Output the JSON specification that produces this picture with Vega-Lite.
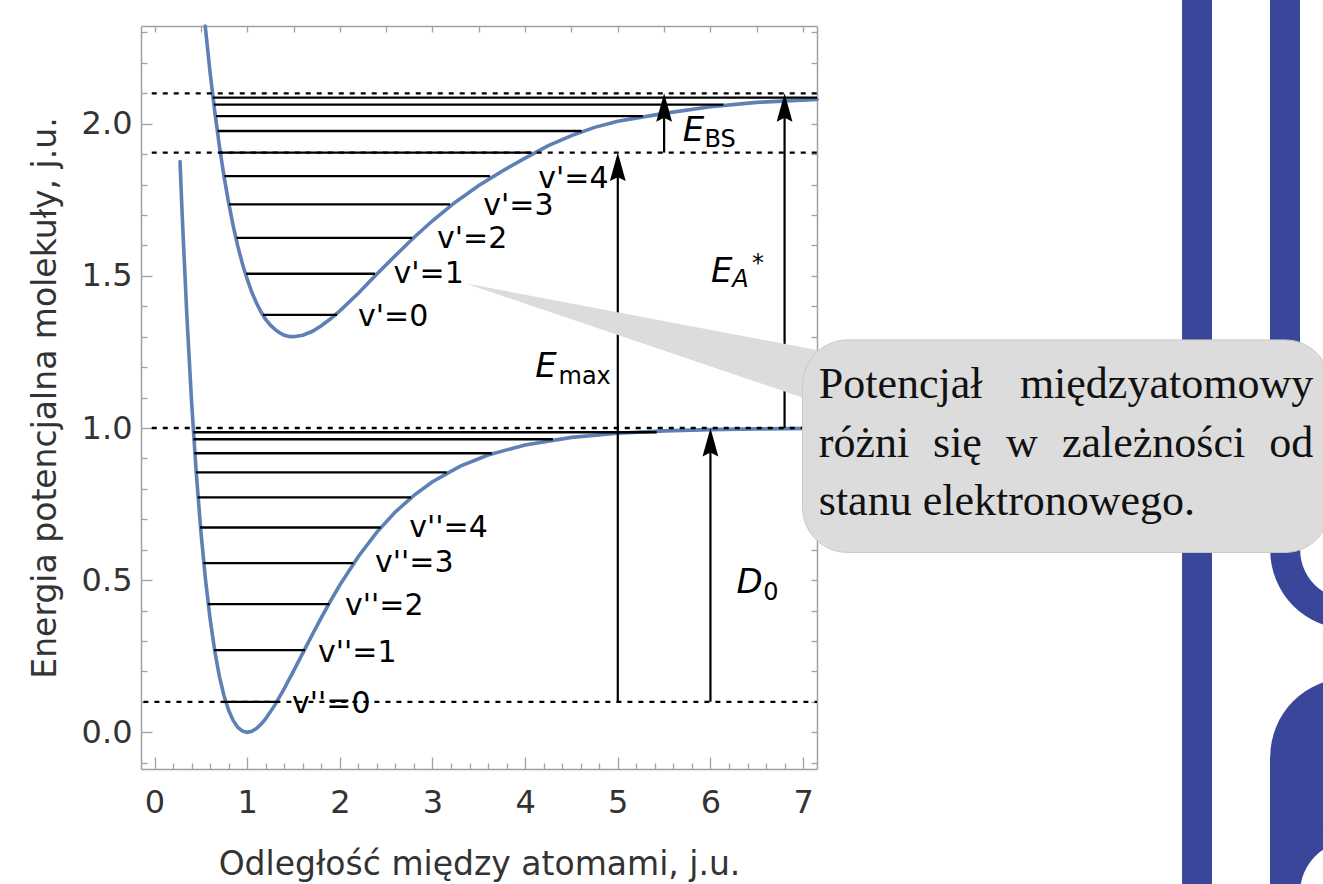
{
  "$schema": "https://vega.github.io/schema/vega-lite/v6.json",
  "width": 676,
  "height": 743,
  "autosize": {"type": "none"},
  "padding": {"left": 141, "top": 26, "right": 506, "bottom": 115},
  "background": "white",
  "config": {
    "view": {"stroke": null},
    "axis": {
      "grid": false,
      "domainColor": "#a0a0a0",
      "tickColor": "#a0a0a0",
      "domainWidth": 1.5,
      "tickWidth": 1.3,
      "labelFont": "DejaVu Sans",
      "labelFontSize": 32,
      "labelColor": "#333333",
      "labelFlush": false,
      "labelOverlap": false,
      "titleFont": "DejaVu Sans",
      "titleFontSize": 33,
      "titleFontWeight": "normal",
      "titleColor": "#333333"
    }
  },
  "resolve": {"axis": {"x": "independent", "y": "independent"}},
  "datasets": {
    "curves": [
      {"c": "L", "x": 0.275, "y": 1.876}, {"c": "L", "x": 0.3, "y": 1.69}, {"c": "L", "x": 0.35, "y": 1.363},
      {"c": "L", "x": 0.4, "y": 1.086}, {"c": "L", "x": 0.45, "y": 0.854}, {"c": "L", "x": 0.5, "y": 0.661},
      {"c": "L", "x": 0.55, "y": 0.502}, {"c": "L", "x": 0.6, "y": 0.372}, {"c": "L", "x": 0.65, "y": 0.267},
      {"c": "L", "x": 0.7, "y": 0.184}, {"c": "L", "x": 0.75, "y": 0.12}, {"c": "L", "x": 0.8, "y": 0.0722},
      {"c": "L", "x": 0.85, "y": 0.0382}, {"c": "L", "x": 0.9, "y": 0.016}, {"c": "L", "x": 0.95, "y": 0.0038},
      {"c": "L", "x": 1.0, "y": 0.0}, {"c": "L", "x": 1.05, "y": 0.0033}, {"c": "L", "x": 1.1, "y": 0.0126},
      {"c": "L", "x": 1.15, "y": 0.0267}, {"c": "L", "x": 1.2, "y": 0.0449}, {"c": "L", "x": 1.3, "y": 0.0901},
      {"c": "L", "x": 1.4, "y": 0.1434}, {"c": "L", "x": 1.5, "y": 0.2011}, {"c": "L", "x": 1.6, "y": 0.2604},
      {"c": "L", "x": 1.7, "y": 0.3195}, {"c": "L", "x": 1.8, "y": 0.377}, {"c": "L", "x": 1.9, "y": 0.4321},
      {"c": "L", "x": 2.0, "y": 0.4841}, {"c": "L", "x": 2.2, "y": 0.5779}, {"c": "L", "x": 2.4, "y": 0.6578},
      {"c": "L", "x": 2.6, "y": 0.7243}, {"c": "L", "x": 2.8, "y": 0.7789}, {"c": "L", "x": 3.0, "y": 0.8235},
      {"c": "L", "x": 3.3, "y": 0.8747}, {"c": "L", "x": 3.6, "y": 0.9114}, {"c": "L", "x": 4.0, "y": 0.9445},
      {"c": "L", "x": 4.5, "y": 0.9692}, {"c": "L", "x": 5.0, "y": 0.9829}, {"c": "L", "x": 5.5, "y": 0.9906},
      {"c": "L", "x": 6.0, "y": 0.9948}, {"c": "L", "x": 6.5, "y": 0.9971}, {"c": "L", "x": 7.15, "y": 0.9987},
      {"c": "U", "x": 0.547, "y": 2.321}, {"c": "U", "x": 0.6, "y": 2.167}, {"c": "U", "x": 0.65, "y": 2.04},
      {"c": "U", "x": 0.7, "y": 1.927}, {"c": "U", "x": 0.75, "y": 1.827}, {"c": "U", "x": 0.8, "y": 1.74},
      {"c": "U", "x": 0.85, "y": 1.663}, {"c": "U", "x": 0.9, "y": 1.596}, {"c": "U", "x": 0.95, "y": 1.538},
      {"c": "U", "x": 1.0, "y": 1.489}, {"c": "U", "x": 1.05, "y": 1.446}, {"c": "U", "x": 1.1, "y": 1.411},
      {"c": "U", "x": 1.15, "y": 1.381}, {"c": "U", "x": 1.2, "y": 1.357}, {"c": "U", "x": 1.25, "y": 1.338},
      {"c": "U", "x": 1.3, "y": 1.324}, {"c": "U", "x": 1.35, "y": 1.313}, {"c": "U", "x": 1.4, "y": 1.305},
      {"c": "U", "x": 1.45, "y": 1.301}, {"c": "U", "x": 1.5, "y": 1.3}, {"c": "U", "x": 1.6, "y": 1.305},
      {"c": "U", "x": 1.7, "y": 1.317}, {"c": "U", "x": 1.8, "y": 1.336}, {"c": "U", "x": 1.9, "y": 1.359},
      {"c": "U", "x": 2.0, "y": 1.385}, {"c": "U", "x": 2.2, "y": 1.443}, {"c": "U", "x": 2.4, "y": 1.506},
      {"c": "U", "x": 2.6, "y": 1.567}, {"c": "U", "x": 2.8, "y": 1.626}, {"c": "U", "x": 3.0, "y": 1.681},
      {"c": "U", "x": 3.25, "y": 1.743}, {"c": "U", "x": 3.5, "y": 1.797}, {"c": "U", "x": 3.75, "y": 1.844},
      {"c": "U", "x": 4.0, "y": 1.887}, {"c": "U", "x": 4.25, "y": 1.928}, {"c": "U", "x": 4.5, "y": 1.961},
      {"c": "U", "x": 4.75, "y": 1.988}, {"c": "U", "x": 5.0, "y": 2.008}, {"c": "U", "x": 5.5, "y": 2.034},
      {"c": "U", "x": 6.0, "y": 2.056}, {"c": "U", "x": 6.5, "y": 2.07}, {"c": "U", "x": 7.15, "y": 2.08}
    ],
    "levels": [
      {"x": 0.736, "x2": 1.344, "y": 0.1}, {"x": 0.642, "x2": 1.624, "y": 0.27}, {"x": 0.574, "x2": 1.887, "y": 0.421},
      {"x": 0.527, "x2": 2.146, "y": 0.556}, {"x": 0.491, "x2": 2.441, "y": 0.673}, {"x": 0.466, "x2": 2.768, "y": 0.772},
      {"x": 0.448, "x2": 3.154, "y": 0.854}, {"x": 0.43, "x2": 3.64, "y": 0.917}, {"x": 0.419, "x2": 4.3, "y": 0.963},
      {"x": 0.419, "x2": 5.42, "y": 0.986},
      {"x": 1.17, "x2": 1.97, "y": 1.372}, {"x": 0.99, "x2": 2.38, "y": 1.507}, {"x": 0.885, "x2": 2.78, "y": 1.625},
      {"x": 0.804, "x2": 3.19, "y": 1.735}, {"x": 0.754, "x2": 3.62, "y": 1.828}, {"x": 0.707, "x2": 4.07, "y": 1.905},
      {"x": 0.682, "x2": 4.61, "y": 1.976}, {"x": 0.664, "x2": 5.27, "y": 2.025}, {"x": 0.642, "x2": 6.14, "y": 2.063},
      {"x": 0.628, "x2": 7.15, "y": 2.086}
    ],
    "dotted": [
      {"x": -0.12, "x2": 7.15, "y": 0.1}, {"x": -0.03, "x2": 7.15, "y": 1.0},
      {"x": -0.03, "x2": 7.15, "y": 1.905}, {"x": -0.03, "x2": 7.15, "y": 2.1}
    ],
    "arrows": [
      {"x": 5.0, "y": 0.1, "y2": 1.875, "top": 1.905}, {"x": 6.0, "y": 0.1, "y2": 0.97, "top": 1.0},
      {"x": 6.8, "y": 1.0, "y2": 2.07, "top": 2.1}, {"x": 5.5, "y": 1.905, "y2": 2.07, "top": 2.1}
    ],
    "vlabels": [
      {"x": 1.484, "y": 0.0624, "t": "v''=0"}, {"x": 1.765, "y": 0.232, "t": "v''=1"}, {"x": 2.056, "y": 0.3855, "t": "v''=2"},
      {"x": 2.38, "y": 0.5266, "t": "v''=3"}, {"x": 2.75, "y": 0.6434, "t": "v''=4"},
      {"x": 2.196, "y": 1.335, "t": "v'=0"}, {"x": 2.58, "y": 1.4755, "t": "v'=1"}, {"x": 3.049, "y": 1.5905, "t": "v'=2"},
      {"x": 3.549, "y": 1.7, "t": "v'=3"}, {"x": 4.142, "y": 1.788, "t": "v'=4"}
    ],
    "emain": [
      {"x": 4.11, "y": 1.1666, "t": "E"}, {"x": 6.005, "y": 1.4808, "t": "E"},
      {"x": 5.7, "y": 1.9432, "t": "E"}, {"x": 6.28, "y": 0.4578, "t": "D"}
    ],
    "esub": [
      {"x": 4.36, "y": 1.1446, "t": "max"}, {"x": 5.935, "y": 1.9226, "t": "BS"},
      {"x": 6.57, "y": 0.4348, "t": "0"}, {"x": 6.449, "y": 1.515, "t": "*"}
    ],
    "esubi": [{"x": 6.235, "y": 1.4644, "t": "A"}],
    "decorect": [
      {"x": 11.09, "x2": 11.413, "y": -0.55, "y2": 2.45},
      {"x": 12.039, "x2": 12.363, "y": 0.599, "y2": 2.45},
      {"x": 12.039, "x2": 12.75, "y": -0.55, "y2": -0.0809}
    ],
    "pointer": [
      {"x": 3.351, "y": 1.4755, "y2": 1.4755},
      {"x": 7.29, "y": 1.2482, "y2": 1.0694}
    ],
    "box": [{"x": 6.994, "x2": 12.686, "y": 1.2895, "y2": 0.5911}],
    "boxleft": [
      {"x": 7.169, "y": 1.0976, "t": "Potencjał"},
      {"x": 7.169, "y": 0.9057, "t": "różni"}, {"x": 8.402, "y": 0.9057, "t": "się"},
      {"x": 9.19, "y": 0.9057, "t": "w"}, {"x": 9.794, "y": 0.9057, "t": "zależności"},
      {"x": 7.169, "y": 0.7141, "t": "stanu elektronowego."}
    ],
    "boxright": [
      {"x": 12.505, "y": 1.0976, "t": "międzyatomowy"},
      {"x": 12.505, "y": 0.9057, "t": "od"}
    ]
  },
  "layer": [
    {
      "data": {"name": "decorect"},
      "mark": {"type": "rect", "color": "#3a469a"},
      "encoding": {
        "x": {"field": "x", "type": "quantitative", "scale": {"domain": [-0.146, 7.15], "nice": false, "zero": false}, "axis": null},
        "x2": {"field": "x2"},
        "y": {"field": "y", "type": "quantitative", "scale": {"domain": [-0.1206, 2.3211], "nice": false, "zero": false}, "axis": null},
        "y2": {"field": "y2"}
      }
    },
    {
      "data": {"values": [{"x": 12.894, "y": 0.599}]},
      "mark": {"type": "arc", "radius": 79, "radius2": 49, "theta": 1.5708, "theta2": 4.7124, "color": "#3a469a"},
      "encoding": {
        "x": {"field": "x", "type": "quantitative", "scale": {"domain": [-0.146, 7.15], "nice": false, "zero": false}, "axis": null},
        "y": {"field": "y", "type": "quantitative", "scale": {"domain": [-0.1206, 2.3211], "nice": false, "zero": false}, "axis": null}
      }
    },
    {
      "data": {"values": [{"x": 12.894, "y": -0.0809}]},
      "mark": {"type": "arc", "radius": 79, "theta": 0, "theta2": 6.2832, "color": "#3a469a"},
      "encoding": {
        "x": {"field": "x", "type": "quantitative", "scale": {"domain": [-0.146, 7.15], "nice": false, "zero": false}, "axis": null},
        "y": {"field": "y", "type": "quantitative", "scale": {"domain": [-0.1206, 2.3211], "nice": false, "zero": false}, "axis": null}
      }
    },
    {
      "data": {"values": [{"x": 12.924, "y": -0.5278}]},
      "mark": {"type": "arc", "radius": 52, "theta": 0, "theta2": 6.2832, "color": "white"},
      "encoding": {
        "x": {"field": "x", "type": "quantitative", "scale": {"domain": [-0.146, 7.15], "nice": false, "zero": false}, "axis": null},
        "y": {"field": "y", "type": "quantitative", "scale": {"domain": [-0.1206, 2.3211], "nice": false, "zero": false}, "axis": null}
      }
    },
    {
      "data": {"name": "curves"},
      "mark": {"type": "line", "color": "#5e81b5", "strokeWidth": 3.6, "strokeCap": "round"},
      "encoding": {
        "x": {"field": "x", "type": "quantitative", "scale": {"domain": [-0.146, 7.15], "nice": false, "zero": false},
          "axis": {"orient": "bottom", "values": [0, 1, 2, 3, 4, 5, 6, 7], "format": "d", "ticks": false, "domain": true,
            "labelPadding": 18, "title": "Odległość między atomami, j.u.", "titlePadding": 30}},
        "y": {"field": "y", "type": "quantitative", "scale": {"domain": [-0.1206, 2.3211], "nice": false, "zero": false},
          "axis": {"orient": "left", "values": [0, 0.5, 1, 1.5, 2], "format": ".1f", "ticks": false, "domain": true,
            "labelPadding": 9, "title": "Energia potencjalna molekuły, j.u.", "titlePadding": 19}},
        "detail": {"field": "c", "type": "nominal"}
      }
    },
    {
      "data": {"name": "levels"},
      "mark": {"type": "rule", "color": "black", "strokeWidth": 2.3},
      "encoding": {
        "x": {"field": "x", "type": "quantitative", "scale": {"domain": [-0.146, 7.15], "nice": false, "zero": false},
          "axis": {"orient": "bottom", "values": [0, 1, 2, 3, 4, 5, 6, 7], "labels": false, "domain": false, "ticks": true, "tickSize": -12, "title": null}},
        "x2": {"field": "x2"},
        "y": {"field": "y", "type": "quantitative", "scale": {"domain": [-0.1206, 2.3211], "nice": false, "zero": false},
          "axis": {"orient": "left", "values": [0, 0.5, 1, 1.5, 2], "labels": false, "domain": false, "ticks": true, "tickSize": -11, "title": null}}
      }
    },
    {
      "data": {"name": "dotted"},
      "mark": {"type": "rule", "color": "black", "strokeWidth": 2.3, "strokeDash": [5, 6]},
      "encoding": {
        "x": {"field": "x", "type": "quantitative", "scale": {"domain": [-0.146, 7.15], "nice": false, "zero": false},
          "axis": {"orient": "bottom", "values": [0.2, 0.4, 0.6, 0.8, 1.2, 1.4, 1.6, 1.8, 2.2, 2.4, 2.6, 2.8, 3.2, 3.4, 3.6, 3.8, 4.2, 4.4, 4.6, 4.8, 5.2, 5.4, 5.6, 5.8, 6.2, 6.4, 6.6, 6.8],
            "labels": false, "domain": false, "ticks": true, "tickSize": -6, "title": null}},
        "x2": {"field": "x2"},
        "y": {"field": "y", "type": "quantitative", "scale": {"domain": [-0.1206, 2.3211], "nice": false, "zero": false},
          "axis": {"orient": "left", "values": [-0.1, 0.1, 0.2, 0.3, 0.4, 0.6, 0.7, 0.8, 0.9, 1.1, 1.2, 1.3, 1.4, 1.6, 1.7, 1.8, 1.9, 2.1, 2.2, 2.3],
            "labels": false, "domain": false, "ticks": true, "tickSize": -6, "title": null}}
      }
    },
    {
      "data": {"name": "arrows"},
      "mark": {"type": "rule", "color": "black", "strokeWidth": 2.2},
      "encoding": {
        "x": {"field": "x", "type": "quantitative", "scale": {"domain": [-0.146, 7.15], "nice": false, "zero": false},
          "axis": {"orient": "top", "values": [0, 0.5, 1, 1.5, 2, 2.5, 3, 3.5, 4, 4.5, 5, 5.5, 6, 6.5, 7],
            "labels": false, "domain": true, "ticks": true, "tickSize": -6, "title": null}},
        "y": {"field": "y", "type": "quantitative", "scale": {"domain": [-0.1206, 2.3211], "nice": false, "zero": false},
          "axis": {"orient": "right", "values": [-0.1, 0, 0.1, 0.2, 0.3, 0.4, 0.5, 0.6, 0.7, 0.8, 0.9, 1, 1.1, 1.2, 1.3, 1.4, 1.5, 1.6, 1.7, 1.8, 1.9, 2, 2.1, 2.2, 2.3],
            "labels": false, "domain": true, "ticks": true, "tickSize": -6, "title": null}},
        "y2": {"field": "y2"}
      }
    },
    {
      "data": {"name": "arrows"},
      "mark": {"type": "point", "shape": "M0,0L-0.5,1.8L0,1.55L0.5,1.8Z", "size": 1000, "filled": true, "color": "black", "opacity": 1, "strokeWidth": 0},
      "encoding": {
        "x": {"field": "x", "type": "quantitative", "scale": {"domain": [-0.146, 7.15], "nice": false, "zero": false}, "axis": null},
        "y": {"field": "top", "type": "quantitative", "scale": {"domain": [-0.1206, 2.3211], "nice": false, "zero": false}, "axis": null}
      }
    },
    {
      "data": {"name": "vlabels"},
      "mark": {"type": "text", "font": "DejaVu Sans", "fontSize": 30, "align": "left", "baseline": "alphabetic", "color": "black"},
      "encoding": {
        "x": {"field": "x", "type": "quantitative", "scale": {"domain": [-0.146, 7.15], "nice": false, "zero": false}, "axis": null},
        "y": {"field": "y", "type": "quantitative", "scale": {"domain": [-0.1206, 2.3211], "nice": false, "zero": false}, "axis": null},
        "text": {"field": "t"}
      }
    },
    {
      "data": {"name": "emain"},
      "mark": {"type": "text", "font": "DejaVu Sans", "fontSize": 34, "fontStyle": "italic", "align": "left", "baseline": "alphabetic", "color": "black"},
      "encoding": {
        "x": {"field": "x", "type": "quantitative", "scale": {"domain": [-0.146, 7.15], "nice": false, "zero": false}, "axis": null},
        "y": {"field": "y", "type": "quantitative", "scale": {"domain": [-0.1206, 2.3211], "nice": false, "zero": false}, "axis": null},
        "text": {"field": "t"}
      }
    },
    {
      "data": {"name": "esub"},
      "mark": {"type": "text", "font": "DejaVu Sans", "fontSize": 24, "align": "left", "baseline": "alphabetic", "color": "black"},
      "encoding": {
        "x": {"field": "x", "type": "quantitative", "scale": {"domain": [-0.146, 7.15], "nice": false, "zero": false}, "axis": null},
        "y": {"field": "y", "type": "quantitative", "scale": {"domain": [-0.1206, 2.3211], "nice": false, "zero": false}, "axis": null},
        "text": {"field": "t"}
      }
    },
    {
      "data": {"name": "esubi"},
      "mark": {"type": "text", "font": "DejaVu Sans", "fontSize": 24, "fontStyle": "italic", "align": "left", "baseline": "alphabetic", "color": "black"},
      "encoding": {
        "x": {"field": "x", "type": "quantitative", "scale": {"domain": [-0.146, 7.15], "nice": false, "zero": false}, "axis": null},
        "y": {"field": "y", "type": "quantitative", "scale": {"domain": [-0.1206, 2.3211], "nice": false, "zero": false}, "axis": null},
        "text": {"field": "t"}
      }
    },
    {
      "data": {"name": "pointer"},
      "mark": {"type": "area", "color": "#dcdcdc", "opacity": 1},
      "encoding": {
        "x": {"field": "x", "type": "quantitative", "scale": {"domain": [-0.146, 7.15], "nice": false, "zero": false}, "axis": null},
        "y": {"field": "y", "type": "quantitative", "stack": null, "scale": {"domain": [-0.1206, 2.3211], "nice": false, "zero": false}, "axis": null},
        "y2": {"field": "y2"}
      }
    },
    {
      "data": {"name": "box"},
      "mark": {"type": "rect", "fill": "#dcdcdc", "stroke": "#c9c9c9", "strokeWidth": 1, "cornerRadius": 45, "opacity": 1},
      "encoding": {
        "x": {"field": "x", "type": "quantitative", "scale": {"domain": [-0.146, 7.15], "nice": false, "zero": false}, "axis": null},
        "x2": {"field": "x2"},
        "y": {"field": "y", "type": "quantitative", "scale": {"domain": [-0.1206, 2.3211], "nice": false, "zero": false}, "axis": null},
        "y2": {"field": "y2"}
      }
    },
    {
      "data": {"name": "boxleft"},
      "mark": {"type": "text", "font": "Liberation Serif", "fontSize": 44, "align": "left", "baseline": "alphabetic", "color": "#111111"},
      "encoding": {
        "x": {"field": "x", "type": "quantitative", "scale": {"domain": [-0.146, 7.15], "nice": false, "zero": false}, "axis": null},
        "y": {"field": "y", "type": "quantitative", "scale": {"domain": [-0.1206, 2.3211], "nice": false, "zero": false}, "axis": null},
        "text": {"field": "t"}
      }
    },
    {
      "data": {"name": "boxright"},
      "mark": {"type": "text", "font": "Liberation Serif", "fontSize": 44, "align": "right", "baseline": "alphabetic", "color": "#111111"},
      "encoding": {
        "x": {"field": "x", "type": "quantitative", "scale": {"domain": [-0.146, 7.15], "nice": false, "zero": false}, "axis": null},
        "y": {"field": "y", "type": "quantitative", "scale": {"domain": [-0.1206, 2.3211], "nice": false, "zero": false}, "axis": null},
        "text": {"field": "t"}
      }
    }
  ]
}
